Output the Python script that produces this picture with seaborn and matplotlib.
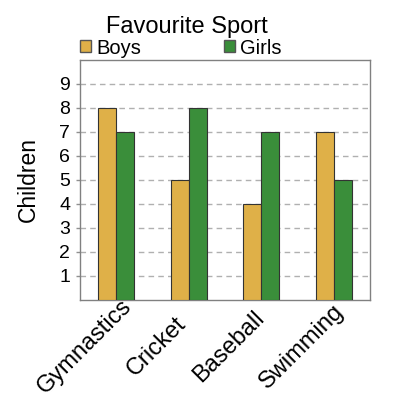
import matplotlib
matplotlib.use("Agg")
import matplotlib.pyplot as plt
import matplotlib.transforms as mtransforms
import seaborn as sns
import pandas as pd
from matplotlib.patches import Patch

sports = ["Gymnastics", "Cricket", "Baseball", "Swimming"]
boys = [8, 5, 4, 7]
girls = [7, 8, 7, 5]
series = ["Boys", "Girls"]
colors = ["#DFB048", "#3A8E3A"]

df = pd.DataFrame({
    "Sport": sports * 2,
    "Children": boys + girls,
    "Group": ["Boys"] * 4 + ["Girls"] * 4,
})

sns.set_style("white")
plt.rcParams["font.family"] = ["Liberation Sans", "DejaVu Sans"]
plt.rcParams["text.color"] = "black"
plt.rcParams["axes.labelcolor"] = "black"
plt.rcParams["xtick.color"] = "black"
plt.rcParams["ytick.color"] = "black"

fig = plt.figure(figsize=(4, 4), dpi=100)
ax = fig.add_axes([0.2, 0.25, 0.725, 0.6])
sns.barplot(data=df, x="Sport", y="Children", hue="Group", order=sports,
            hue_order=series, palette=colors, width=0.5, ax=ax,
            edgecolor="#333333", linewidth=0.8, saturation=1, legend=False, zorder=3)
ax.set_xlim(-0.5, 3.5)
ax.set_ylim(0, 10)
ax.set_yticks(range(1, 10))
ax.yaxis.grid(True, linestyle=(0, (4, 3)), color="#b0b0b0", linewidth=1, zorder=0)
ax.set_axisbelow(True)
for s in ax.spines.values():
    s.set_color("#808080")
    s.set_linewidth(1)
ax.tick_params(axis="y", labelsize=14, length=3, width=1, color="#909090", pad=4, left=True)
ax.tick_params(axis="x", length=0, labelbottom=False)
ax.set_xlabel("")
ax.set_ylabel("Children", fontsize=16.5, labelpad=14)

# rotated category labels, centred below-left of each category
offset = mtransforms.ScaledTranslation(-32 / 100, -47 / 100, fig.dpi_scale_trans)
for i, name in enumerate(sports):
    ax.text(i, 0, name, transform=ax.get_xaxis_transform() + offset,
            rotation=45, ha="center", va="center", fontsize=17)

fig.text(0.467, 0.932, "Favourite Sport", fontsize=17, ha="center", va="center")
handles = [Patch(facecolor=c, edgecolor="#555555", label=l) for c, l in zip(colors, series)]
fig.legend(handles=handles, loc="center left", bbox_to_anchor=(0.2, 0.88), ncol=2,
           frameon=False, fontsize=14.5, handlelength=0.55, handleheight=0.55,
           handletextpad=0.25, columnspacing=4.1, borderaxespad=0, borderpad=0)

fig.savefig("out.png", dpi=100)
